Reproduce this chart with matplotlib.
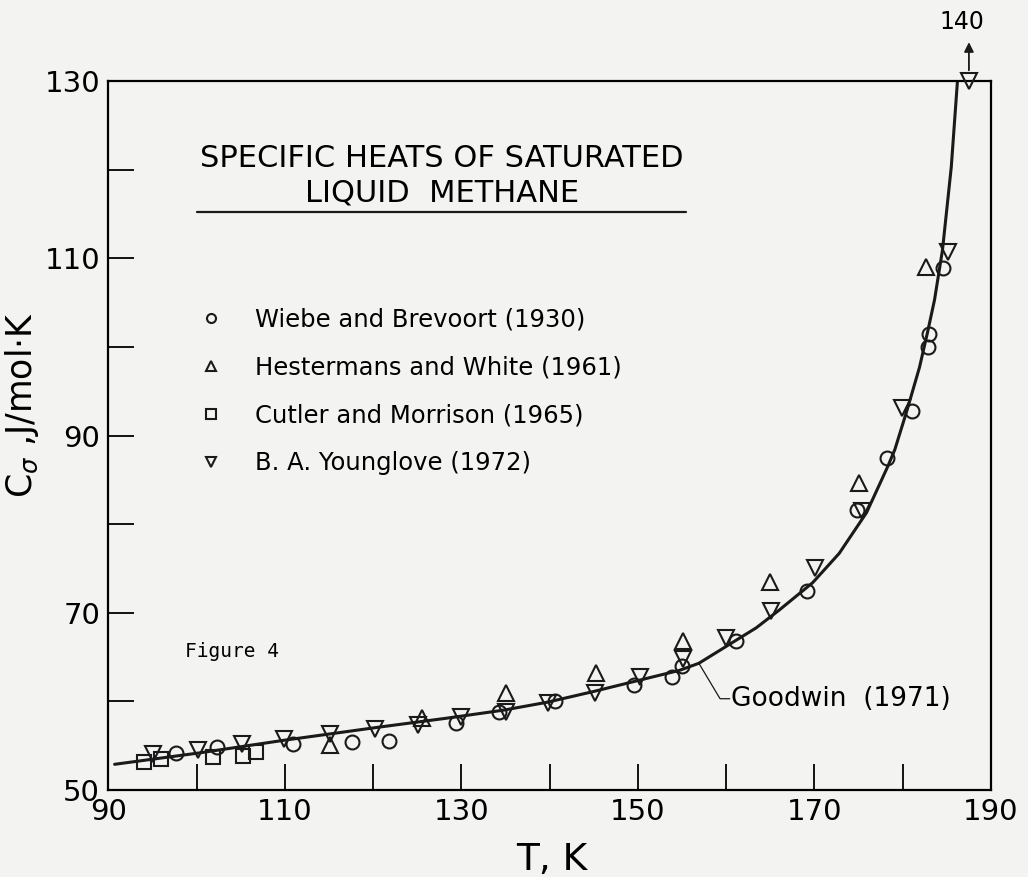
import numpy as np
import matplotlib
matplotlib.use('Agg')
import matplotlib.pyplot as plt
import matplotlib.ticker as ticker

plt.rcParams.update({'font.family': ['DejaVu Sans'], 'font.size': 20,
                     'axes.linewidth': 1.6, 'lines.solid_capstyle': 'round'})

BG = '#f3f3f1'
YMAX = 130

# Goodwin (1971) curve
curve_T = [90.7, 100.4, 109.8, 120.7, 128.3, 134.7, 139.7, 144.9, 150.2, 154.7,
           156.9, 163.4, 166.0, 169.8, 172.8, 175.9, 178.3, 179.1, 180.5, 181.9,
           182.8, 183.6, 184.5, 185.5, 186.2]
curve_C = [52.9, 54.2, 55.6, 57.1, 58.1, 59.0, 59.9, 61.1, 62.4, 63.5,
           64.3, 68.3, 70.3, 73.4, 76.7, 81.3, 86.5, 88.4, 92.9, 97.7,
           101.6, 105.3, 110.9, 120.3, 130.0]

# Wiebe and Brevoort (1930)
wb_T = [97.7, 102.3, 110.9, 117.6, 121.8, 129.4, 134.2, 140.6, 149.6, 153.9,
        155.0, 161.1, 169.1, 174.8, 178.2, 181.0, 182.9, 183.0, 184.6]
wb_C = [54.2, 54.9, 55.2, 55.4, 55.5, 57.6, 58.8, 60.0, 61.9, 62.8,
        64.0, 66.8, 72.5, 81.6, 87.5, 92.8, 100.0, 101.4, 108.9]

# Hestermans and White (1961)
hw_T = [115.1, 125.5, 135.0, 145.3, 155.1, 165.0, 175.0, 182.6]
hw_C = [55.1, 58.1, 60.9, 63.2, 66.8, 73.5, 84.6, 109.0]

# Cutler and Morrison (1965)
cm_T = [94.0, 95.9, 101.8, 105.2, 106.7]
cm_C = [53.2, 53.5, 53.7, 53.8, 54.3]

# B.A. Younglove (1972)
by_T = [95.0, 100.1, 105.1, 109.9, 115.1, 120.2, 125.1, 130.0, 135.1, 139.8,
        145.1, 150.2, 155.1, 160.0, 165.1, 170.1, 175.4, 179.9, 185.1, 187.5]
by_C = [54.1, 54.5, 55.2, 55.8, 56.3, 56.9, 57.3, 58.2, 58.8, 59.8,
        60.9, 62.8, 64.8, 67.2, 70.2, 75.1, 81.5, 93.1, 110.7, 140.0]

fig = plt.figure(figsize=(10.28, 8.77), dpi=100, facecolor=BG)
ax = fig.add_axes([0.1055, 0.0992, 0.8585, 0.8084], facecolor=BG)

ax.plot(curve_T, curve_C, '-', color='#1a1a1a', lw=2.2, zorder=2)

mk = dict(ls='none', mfc='none', mec='#1a1a1a', mew=1.5, zorder=3, clip_on=False)
ax.plot(wb_T, wb_C, 'o', ms=10, label='Wiebe and Brevoort (1930)', **mk)
ax.plot(hw_T, hw_C, '^', ms=12, label='Hestermans and White (1961)', **mk)
ax.plot(cm_T, cm_C, 's', ms=10, label='Cutler and Morrison (1965)', **mk)
by_plot = np.minimum(by_C, YMAX)
ax.plot(by_T, by_plot, 'v', ms=12, label='B. A. Younglove (1972)', **mk)

# off-scale point
ax.annotate('', xy=(by_T[-1], 134.7), xytext=(by_T[-1], 130.9),
            arrowprops=dict(arrowstyle='-|>', color='#1a1a1a', lw=1.3,
                            mutation_scale=14), annotation_clip=False)
ax.text(by_T[-1] - 0.8, 136.7, f'{by_C[-1]:.0f}', ha='center', va='center',
        fontsize=17, clip_on=False)

ax.set_xlim(90, 190)
ax.set_ylim(50, YMAX)

def fmt(x, p):
    return f'{x:.0f}' if round(x) % 20 == 10 else ''
def fmt_y(y, p):
    return f'{y:.0f}' if round(y) % 20 == 10 else ''
ax.xaxis.set_major_locator(ticker.MultipleLocator(10))
ax.yaxis.set_major_locator(ticker.MultipleLocator(10))
ax.xaxis.set_major_formatter(ticker.FuncFormatter(fmt))
ax.yaxis.set_major_formatter(ticker.FuncFormatter(fmt_y))
ax.tick_params(direction='in', length=19, width=1.3, labelsize=21,
               top=False, right=False)
ax.tick_params(axis='y', pad=6)
ax.tick_params(axis='x', pad=6)

ax.set_xlabel('T, K', fontsize=27)
ax.set_ylabel(r'C$_\sigma$ ,J/mol$\cdot$K', fontsize=25)
ax.xaxis.set_label_coords(0.502, -0.074)
ax.yaxis.set_label_coords(-0.076, 0.543)

# title block
ax.text(127.8, 121.3, 'SPECIFIC HEATS OF SATURATED', ha='center', va='center',
        fontsize=22)
ax.text(127.8, 117.4, 'LIQUID  METHANE', ha='center', va='center', fontsize=22)
ax.plot([100.0, 155.4], [115.2, 115.2], color='#1a1a1a', lw=1.6)

ax.legend(loc='upper left', bbox_to_anchor=(0.1025, 0.68), frameon=False,
          fontsize=17.5, markerscale=0.65, handlelength=1.0, handletextpad=1.3,
          labelspacing=0.98, borderaxespad=0, borderpad=0)

ax.text(98.7, 65.6, 'Figure 4', fontsize=14, family='DejaVu Sans Mono',
        va='center')

# Goodwin label with leader line
ax.plot([156.9, 159.3, 160.4], [64.3, 60.3, 60.3], color='#1a1a1a', lw=0.9)
ax.text(160.5, 60.3, 'Goodwin  (1971)', fontsize=19, va='center')

plt.savefig('out.png', dpi=100, facecolor=BG)
